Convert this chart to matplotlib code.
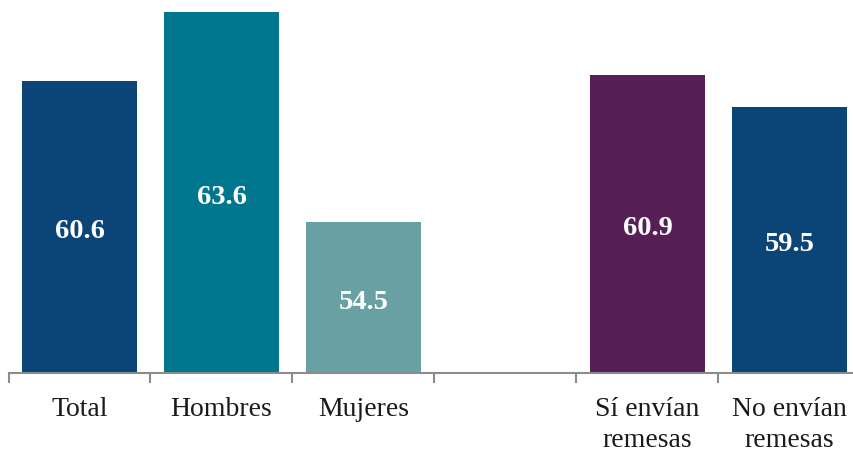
import matplotlib
matplotlib.use("Agg")
import matplotlib.pyplot as plt

categories = ["Total", "Hombres", "Mujeres", "", "Sí envían\nremesas", "No envían\nremesas"]
values = [60.6, 63.6, 54.5, None, 60.9, 59.5]
labels = ["60.6", "63.6", "54.5", "", "60.9", "59.5"]
colors = ["#0B4477", "#00778F", "#68A0A3", "#FFFFFF", "#561F55", "#0B4477"]

ymin, ymax = 48, 64

plt.rcParams['font.family'] = ['Liberation Serif', 'DejaVu Serif']

fig = plt.figure(figsize=(8.54, 4.54), dpi=100)
W, H = 854, 454
ax = fig.add_axes([8.5 / W, 81.5 / H, 852 / W, 369.6 / H])

for i, (v, c, lab) in enumerate(zip(values, colors, labels)):
    if v is None:
        continue
    ax.bar(i, v - ymin, bottom=ymin, width=0.81, color=c, zorder=2)
    ax.annotate(lab, xy=(i, (v + ymin) / 2), xytext=(0, -3.5), textcoords="offset points",
                ha="center", va="center", color="white",
                fontsize=20.5, fontweight="bold", zorder=3)

ax.set_xlim(-0.5, len(categories) - 0.5)
ax.set_ylim(ymin, ymax)

for s in ["top", "right", "left"]:
    ax.spines[s].set_visible(False)
ax.spines["bottom"].set_color("#8c8c8c")
ax.spines["bottom"].set_linewidth(1.5)
ax.spines["bottom"].set_zorder(4)
ax.set_yticks([])

ax.set_xticks([i - 0.5 for i in range(len(categories))])
ax.set_xticklabels([])
ax.set_xticks(range(len(categories)), minor=True)
ax.set_xticklabels(categories, minor=True, fontsize=20, color="#1a1a1a", linespacing=1.33)
ax.tick_params(axis="x", which="major", length=7.5, width=1.5, color="#8c8c8c")
ax.tick_params(axis="x", which="minor", length=0, pad=17.5)

fig.savefig("out.png", dpi=100)
